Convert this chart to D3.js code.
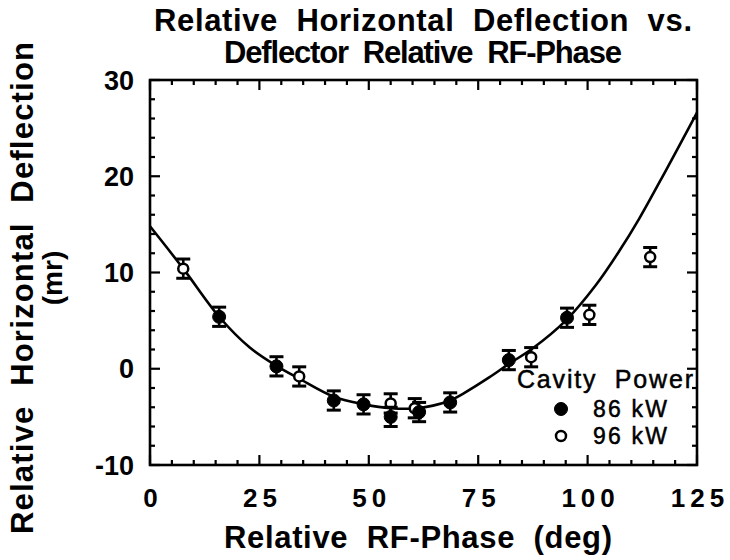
<!DOCTYPE html>
<html><head><meta charset="utf-8">
<script src="https://cdn.jsdelivr.net/npm/d3@7"></script>
<style>
body{margin:0;background:#fff;}
text{font-family:"Liberation Sans",Arial,Helvetica,sans-serif;fill:#000;}
</style></head>
<body><svg id="c" width="730" height="560"></svg>
<script>
// ---- data ----
const phase86 = [15.8, 28.9, 42.0, 48.8, 55.0, 61.5, 68.6, 82.0, 95.3];
const defl86  = [5.4, 0.25, -3.3, -3.7, -5.0, -4.5, -3.5, 0.9, 5.3];
const err86   = [1.0, 1.0, 1.0, 1.0, 1.0, 1.0, 1.0, 1.0, 1.0];
const phase96 = [7.6, 34.1, 55.0, 60.5, 87.1, 100.4, 114.3];
const defl96  = [10.4, -0.8, -3.6, -4.1, 1.2, 5.6, 11.6];
const err96   = [1.0, 1.0, 1.0, 1.0, 1.0, 1.0, 1.0];
const fitPhase = [0, 7.6, 15.8, 22.8, 28.9, 34, 42, 49, 55, 61, 68, 71.5, 77.5, 82, 87.4, 95, 101.9, 107.2, 111.8, 118, 125];
const fitDefl  = [14.8, 10.4, 5.4, 2.2, 0.3, -1.0, -2.9, -3.7, -4.1, -4.1, -3.4, -2.6, -0.9, 0.5, 2.1, 5.0, 8.7, 12.2, 15.6, 20.7, 26.6];
const xTicks = [0, 25, 50, 75, 100, 125];
const yTicks = [-10, 0, 10, 20, 30];
const titleLines = ["Relative  Horizontal  Deflection  vs.", "Deflector  Relative  RF-Phase"];
const xLabel = "Relative  RF-Phase  (deg)";
const yLabel = ["Relative  Horizontal  Deflection", "(mr)"];
const legendTitle = "Cavity  Power";
const legendItems = ["86 kW", "96 kW"];

// ---- layout ----
const svg = d3.select("#c");
const L = 150, R = 697, T = 80, B = 465;
const x = d3.scaleLinear().domain([0, 125]).range([L, R]);
const y = d3.scaleLinear().domain([-10, 30]).range([B, T]);
const SW = 2.6;

// frame
svg.append("rect").attr("x", L).attr("y", T).attr("width", R - L).attr("height", B - T)
  .attr("fill", "none").attr("stroke", "#000").attr("stroke-width", SW);

// ticks (inward)
const xMinor = d3.range(0, 126, 5);
const yMinor = d3.range(-10, 31, 2);
const tk = svg.append("g").attr("stroke", "#000").attr("stroke-width", 2.2);
xMinor.forEach(v => {
  const len = v % 25 === 0 ? 10 : 5;
  tk.append("line").attr("x1", x(v)).attr("x2", x(v)).attr("y1", B).attr("y2", B - len);
  tk.append("line").attr("x1", x(v)).attr("x2", x(v)).attr("y1", T).attr("y2", T + len);
});
yMinor.forEach(v => {
  const len = v % 10 === 0 ? 10 : 5;
  tk.append("line").attr("y1", y(v)).attr("y2", y(v)).attr("x1", L).attr("x2", L + len);
  tk.append("line").attr("y1", y(v)).attr("y2", y(v)).attr("x1", R).attr("x2", R - len);
});

// tick labels
svg.append("g").selectAll("text").data(xTicks).join("text")
  .attr("x", d => x(d) + 3).attr("y", 507).attr("text-anchor", "middle")
  .attr("font-size", 26).attr("font-weight", "bold").attr("letter-spacing", 5)
  .text(d => String(d));
svg.append("g").selectAll("text").data(yTicks).join("text")
  .attr("x", 134).attr("y", d => y(d)).attr("dy", "0.36em").attr("text-anchor", "end")
  .attr("font-size", 27).attr("font-weight", "bold")
  .text(d => String(d));

// titles
svg.append("text").attr("x", 423).attr("y", 31).attr("text-anchor", "middle")
  .attr("font-size", 31).attr("font-weight", "bold").style("white-space", "pre")
  .attr("textLength", 538).attr("lengthAdjust", "spacing")
  .text(titleLines[0]);
svg.append("text").attr("x", 423).attr("y", 63).attr("text-anchor", "middle")
  .attr("font-size", 31).attr("font-weight", "bold").style("white-space", "pre")
  .attr("textLength", 398).attr("lengthAdjust", "spacing")
  .text(titleLines[1]);
svg.append("text").attr("x", 418).attr("y", 548).attr("text-anchor", "middle")
  .attr("font-size", 31).attr("font-weight", "bold").style("white-space", "pre")
  .attr("textLength", 388).attr("lengthAdjust", "spacing")
  .text(xLabel);
svg.append("text").attr("transform", "translate(33,288) rotate(-90)").attr("text-anchor", "middle")
  .attr("font-size", 31).attr("font-weight", "bold").style("white-space", "pre")
  .attr("textLength", 492).attr("lengthAdjust", "spacing")
  .text(yLabel[0]);
svg.append("text").attr("transform", "translate(62,278) rotate(-90)").attr("text-anchor", "middle")
  .attr("font-size", 28).attr("font-weight", "bold")
  .text(yLabel[1]);

// fit curve
const fit = fitPhase.map((p, i) => [p, fitDefl[i]]);
svg.append("path").datum(fit)
  .attr("d", d3.line().x(d => x(d[0])).y(d => y(d[1])).curve(d3.curveCatmullRom))
  .attr("fill", "none").attr("stroke", "#000").attr("stroke-width", 2.6);

// error bars + points
function series(ph, de, er, filled) {
  const g = svg.append("g").attr("stroke", "#000").attr("stroke-width", 2.6);
  ph.forEach((p, i) => {
    const cx = x(p), y1 = y(de[i] + er[i]), y2 = y(de[i] - er[i]);
    g.append("line").attr("x1", cx).attr("x2", cx).attr("y1", y1).attr("y2", y2);
    g.append("line").attr("x1", cx - 7).attr("x2", cx + 7).attr("y1", y1).attr("y2", y1).attr("stroke-width", 3);
    g.append("line").attr("x1", cx - 7).attr("x2", cx + 7).attr("y1", y2).attr("y2", y2).attr("stroke-width", 3);
    g.append("circle").attr("cx", cx).attr("cy", y(de[i])).attr("r", filled ? 6.5 : 5)
      .attr("fill", filled ? "#000" : "#fff").attr("stroke-width", filled ? 1 : 2.5);
  });
}
series(phase96, defl96, err96, false);
series(phase86, defl86, err86, true);

// legend
svg.append("text").attr("x", 517).attr("y", 388).attr("font-size", 25)
  .attr("stroke", "#000").attr("stroke-width", 0.5)
  .style("white-space", "pre").attr("textLength", 176).attr("lengthAdjust", "spacing")
  .text(legendTitle);
legendItems.forEach((t, i) => {
  const yy = 409 + i * 27;
  svg.append("circle").attr("cx", 561).attr("cy", yy).attr("r", i === 0 ? 6.5 : 5)
    .attr("fill", i === 0 ? "#000" : "#fff").attr("stroke", "#000").attr("stroke-width", i === 0 ? 1 : 2.5);
  svg.append("text").attr("x", 593).attr("y", yy + 8).attr("font-size", 23)
    .attr("stroke", "#000").attr("stroke-width", 0.5)
    .attr("textLength", 74).attr("lengthAdjust", "spacing").text(t);
});
</script></body></html>
